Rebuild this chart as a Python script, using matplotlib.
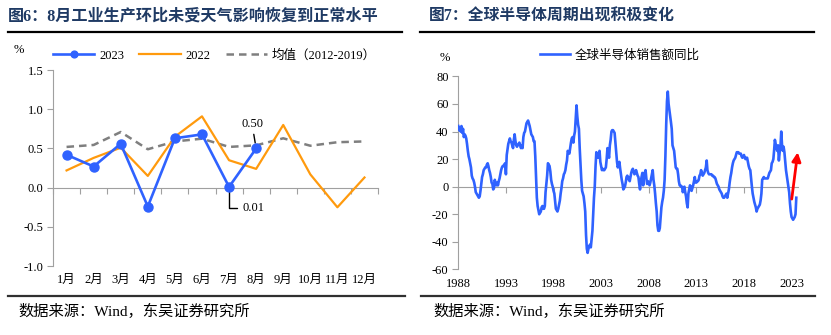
import matplotlib
matplotlib.use("Agg")
import matplotlib.pyplot as plt
from matplotlib.lines import Line2D
import numpy as np
import pandas as pd

plt.rcParams['font.family'] = ['Liberation Serif', 'Noto Sans CJK SC', 'DejaVu Sans']
plt.rcParams['axes.unicode_minus'] = False

# ---------------- data: left chart ----------------
months = ["1月", "2月", "3月", "4月", "5月", "6月", "7月", "8月", "9月", "10月", "11月", "12月"]
ip_2023 = [0.42, 0.27, 0.56, -0.24, 0.63, 0.68, 0.01, 0.50]
ip_2022 = [0.22, 0.38, 0.51, 0.15, 0.65, 0.91, 0.35, 0.24, 0.80, 0.17, -0.25, 0.13]
ip_avg = [0.52, 0.545, 0.71, 0.49, 0.59, 0.625, 0.52, 0.54, 0.63, 0.535, 0.58, 0.59]
left_yticks = [-1.0, -0.5, 0.0, 0.5, 1.0, 1.5]

# ---------------- data: right chart (monthly, from Jan 1988) ----------------
semi_start = "1988-01-01"
semi_yoy = [
    44, 41, 43, 40, 44, 39, 42, 36, 38, 37, 35, 31,        # 1988
    26, 22, 20, 17, 14, 8, 6, 5, 3, 0, -4, -5,             # 1989
    -6, -7, -8, -7, -3, 2, 7, 9, 12, 13, 14, 14,           # 1990
    16, 17, 15, 12, 10, 7, 3, 2, -2, -1, 5, 2,             # 1991
    1, 3, 1, 4, 6, 9, 12, 14, 15, 15, 16, 17,              # 1992
    9, 23, 27, 31, 33, 35, 33, 32, 30, 28, 34, 38,         # 1993
    33, 30, 29, 30, 31, 32, 30, 28, 30, 28, 36, 39,        # 1994
    40, 43, 46, 47, 48, 46, 44, 41, 38, 37, 36, 33,        # 1995
    33, 22, 8, -8, -14, -17, -20, -19, -18, -15, -14, -16, # 1996
    -16, -14, -4, 2, 8, 17, 16, 15, 11, 5, 2, 0,           # 1997
    -3, -5, -10, -16, -17, -18, -16, -13, -10, -5, -1, 4,  # 1998
    6, 9, 10, 12, 16, 19, 26, 25, 24, 28, 32, 35,          # 1999
    36, 32, 37, 40, 50, 59, 51, 45, 42, 28, 17, 5,         # 2000
    -3, -5, -7, -12, -18, -35, -45, -48, -45, -43, -42, -44,  # 2001
    -38, -32, -20, -8, 0, 15, 25, 22, 21, 24, 26, 18,      # 2002
    15, 12, 13, 12, 12, 13, 14, 20, 28, 24, 21, 30,        # 2003
    34, 40, 41, 41, 40, 39, 32, 24, 18, 14, 16, 18,        # 2004
    13, 9, 5, 2, -2, -1, 0, 3, 7, 8, 7, 5,                 # 2005
    4, 7, 10, 12, 13, 11, 9, 10, 12, 10, 8, 7,             # 2006
    2, -2, 4, 7, 10, 1, 7, 10, 12, 6, 2, 4,                # 2007
    3, 1, 3, 6, 9, 12, 5, 1, -5, -12, -18, -28,            # 2008
    -32, -32, -30, -22, -15, -11, -8, -3, 5, 22, 45, 62,   # 2009
    69, 60, 56, 52, 47, 42, 30, 28, 26, 20, 14, 13,        # 2010
    13, 9, 4, 1, 1, 0, 0, -4, -2, 0, -4, -7,               # 2011
    -12, -15, -5, -2, 1, 0, -3, -1, 1, 4, 7, 3,            # 2012
    3, 4, 4, 5, 8, 9, 12, 10, 8, 9, 10, 12,                # 2013
    14, 19, 12, 10, 9, 9, 9, 9, 8, 8, 7, 7,                # 2014
    6, 4, 2, 1, 0, -2, -3, -4, -5, -7, -8, -8,             # 2015
    -7, -6, -5, -8, -5, -2, 3, 7, 10, 14, 17, 19,          # 2016
    20, 21, 23, 25, 25, 25, 24, 24, 24, 22, 21, 22,        # 2017
    23, 21, 20, 21, 21, 18, 15, 13, 12, 6, 0, -5,          # 2018
    -8, -11, -13, -15, -18, -16, -15, -14, -13, -10, -5, 5,  # 2019
    6, 7, 6, 6, 6, 6, 6, 8, 10, 11, 12, 17,                # 2020
    18, 20, 26, 34, 31, 28, 26, 30, 19, 25, 29, 40,        # 2021
    30, 26, 29, 25, 19, 12, 8, 4, 0, -4, -12, -18,         # 2022
    -22, -23, -24, -23, -22, -20, -8,                      # 2023
]
arrow_from = ("2023-01-07", -9)
arrow_to = ("2023-08-25", 25)
right_yticks = [-60, -40, -20, 0, 20, 40, 60, 80]
right_xlabel_years = [1988, 1993, 1998, 2003, 2008, 2013, 2018, 2023]

# ---------------- style ----------------
BLUE = "#2F62FF"
ORANGE = "#FF9A0D"
GRAY = "#7F7F7F"
AXC = "#A0A0A0"
NAVY = "#1F3A64"
TICK_FS = 9

fig = plt.figure(figsize=(8.31, 3.35), dpi=100)

# ---------------- left chart ----------------
axL = fig.add_axes([0.0638, 0.2057, 0.3911, 0.5851])
x = np.arange(len(months))
l_avg, = axL.plot(x, ip_avg, color=GRAY, lw=1.8, ls=(0, (3, 2)), label="均值（2012-2019）", zorder=2)
l_22, = axL.plot(x, ip_2022, color=ORANGE, lw=1.6, label="2022", zorder=3)
l_23, = axL.plot(x[:len(ip_2023)], ip_2023, color=BLUE, lw=1.9, marker="o", ms=6.5,
                 label="2023", zorder=4)
axL.set_xlim(-0.5, len(months) - 0.5)
axL.set_ylim(-1.0, 1.5)
axL.set_yticks(left_yticks)
axL.set_yticklabels([f"{v:.1f}" for v in left_yticks], fontsize=TICK_FS)
for s in ["top", "right"]:
    axL.spines[s].set_visible(False)
axL.spines["left"].set_color(AXC)
axL.spines["bottom"].set_color(AXC)
axL.spines["bottom"].set_position(("data", 0))
axL.set_xticks(np.arange(-0.5, len(months), 1.0))
axL.tick_params(axis="x", direction="out", length=4, color=AXC, labelbottom=False)
axL.tick_params(axis="y", direction="out", length=4, color=AXC, pad=3)
secL = axL.secondary_xaxis(0.0)
secL.set_xticks(x)
secL.set_xticklabels(months, fontsize=TICK_FS)
secL.tick_params(length=0, pad=6)
secL.spines["bottom"].set_visible(False)
axL.text(-0.105, 1.10, "%", transform=axL.transAxes, fontsize=TICK_FS, ha="center", va="center")

axL.annotate(f"{ip_2023[7]:.2f}", xy=(7, ip_2023[7]), xytext=(6.85, 0.81), fontsize=TICK_FS,
             ha="center", va="center",
             arrowprops=dict(arrowstyle="-", color="black", lw=1.0, shrinkA=1, shrinkB=4))
axL.annotate(f"{ip_2023[6]:.2f}", xy=(6, ip_2023[6]), xytext=(6.48, -0.26), fontsize=TICK_FS,
             ha="left", va="center",
             arrowprops=dict(arrowstyle="-", color="black", lw=1.0, shrinkA=2, shrinkB=4,
                             connectionstyle="angle,angleA=0,angleB=90,rad=0"))

axL.legend(handles=[l_23, l_22, l_avg], loc="center left", bbox_to_anchor=(-0.015, 1.075),
           ncol=3, frameon=False, fontsize=TICK_FS, handlelength=3.3, handletextpad=0.4,
           columnspacing=1.2, borderaxespad=0, markerscale=0.75)

# ---------------- right chart ----------------
axR = fig.add_axes([0.5515, 0.1958, 0.4088, 0.5761])
dates = pd.date_range(semi_start, periods=len(semi_yoy), freq="MS")
l_semi, = axR.plot(dates, semi_yoy, color=BLUE, lw=1.9, label="全球半导体销售额同比", zorder=3)
axR.annotate("", xy=(pd.Timestamp(arrow_to[0]), arrow_to[1]),
             xytext=(pd.Timestamp(arrow_from[0]), arrow_from[1]),
             arrowprops=dict(arrowstyle="-|>", color="#FF0000", lw=2.0, mutation_scale=13,
                             shrinkA=0, shrinkB=0), zorder=5)
axR.set_xlim(pd.Timestamp("1988-01-01"), pd.Timestamp("2023-09-05"))
axR.set_ylim(-60, 80)
axR.set_yticks(right_yticks)
axR.set_yticklabels([str(v) for v in right_yticks], fontsize=TICK_FS)
for s in ["top", "right"]:
    axR.spines[s].set_visible(False)
axR.spines["left"].set_color(AXC)
axR.spines["bottom"].set_color(AXC)
axR.spines["bottom"].set_position(("data", 0))
year_ticks = [pd.Timestamp(f"{y}-01-01") for y in right_xlabel_years]
axR.set_xticks(year_ticks)
axR.tick_params(axis="x", direction="out", length=4, color=AXC, labelbottom=False)
axR.tick_params(axis="y", direction="out", length=4, color=AXC, pad=3)
secR = axR.secondary_xaxis(0.0)
secR.set_xticks(year_ticks)
secR.set_xticklabels([str(y) for y in right_xlabel_years], fontsize=TICK_FS)
secR.tick_params(length=0, pad=6)
secR.spines["bottom"].set_visible(False)
axR.text(-0.04, 1.095, "%", transform=axR.transAxes, fontsize=TICK_FS, ha="center", va="center")
axR.legend(handles=[l_semi], loc="center left", bbox_to_anchor=(0.225, 1.11), frameon=False,
           fontsize=TICK_FS, handlelength=2.4, handletextpad=0.4, borderaxespad=0)

# ---------------- titles, rules, sources ----------------
fig.text(8 / 831, 1 - 17 / 335, "图6：8月工业生产环比未受天气影响恢复到正常水平", fontsize=11.6,
         fontweight="bold", color=NAVY, ha="left", va="center")
fig.text(429 / 831, 1 - 17 / 335, "图7：全球半导体周期出现积极变化", fontsize=11.4,
         fontweight="bold", color=NAVY, ha="left", va="center")
for (x0, x1) in [(8, 402), (420, 814)]:
    fig.add_artist(Line2D([x0 / 831, x1 / 831], [1 - 32 / 335] * 2, color="black", lw=1.6,
                          transform=fig.transFigure))
for (x0, x1) in [(8, 405), (421, 815)]:
    fig.add_artist(Line2D([x0 / 831, x1 / 831], [1 - 296 / 335] * 2, color="#303030", lw=1.6,
                          transform=fig.transFigure))
fig.text(18 / 831, 1 - 311 / 335, "数据来源：Wind，东吴证券研究所", fontsize=11,
         ha="left", va="center")
fig.text(433 / 831, 1 - 311 / 335, "数据来源：Wind，东吴证券研究所", fontsize=11,
         ha="left", va="center")

fig.savefig("out.png", dpi=100)
